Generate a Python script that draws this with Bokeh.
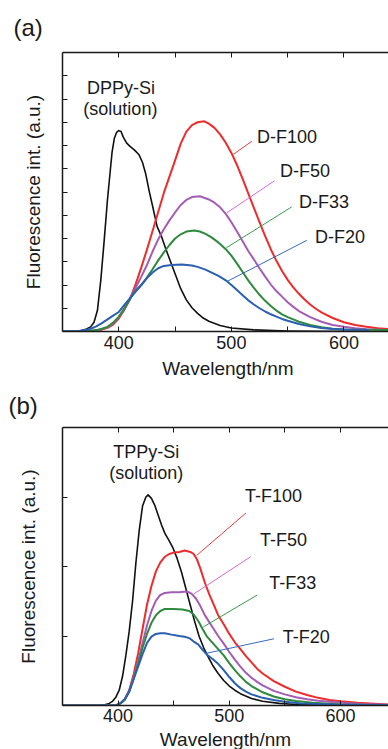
from bokeh.plotting import figure
from bokeh.models import LinearAxis, FixedTicker, Range1d, Label, CustomLabelingPolicy
from bokeh.layouts import column
from bokeh.embed import file_html
from bokeh.resources import INLINE

# ---------------- data : panel (a) ----------------
wl_dppy_si = [350, 360, 365, 370, 375, 378, 381, 384, 387, 390, 392, 394, 396, 398, 400, 402, 404, 407, 410, 414,
              418, 421, 424, 427, 430, 434, 438, 442, 446, 450, 455, 460, 465, 470, 475, 480, 490, 500, 520, 550, 580, 625]
int_dppy_si = [0, 0, 0.01, 0.04, 0.1, 0.2, 0.45, 1.1, 1.95, 2.85, 3.35, 3.85, 4.15, 4.28, 4.32, 4.3, 4.18, 4.05, 3.98, 3.9,
               3.8, 3.64, 3.38, 3.02, 2.7, 2.26, 2.04, 1.76, 1.5, 1.24, 0.92, 0.68, 0.51, 0.39, 0.29, 0.22, 0.13, 0.075, 0.035, 0.012, 0.005, 0]

wl_df100 = [350, 370, 380, 385, 390, 395, 400, 405, 410, 415, 420, 425, 430, 435, 440, 445, 450, 455, 460, 465,
            470, 476, 480, 485, 490, 495, 500, 505, 510, 515, 520, 525, 530, 535, 540, 545, 550, 555, 560, 565,
            570, 575, 580, 590, 600, 610, 620, 630, 643]
int_df100 = [0, 0, 0.02, 0.04, 0.08, 0.15, 0.28, 0.47, 0.7, 1.02, 1.38, 1.76, 2.16, 2.57, 2.98, 3.33, 3.68, 4.04, 4.3, 4.44,
             4.5, 4.52, 4.47, 4.38, 4.24, 4.06, 3.84, 3.58, 3.28, 2.97, 2.66, 2.35, 2.05, 1.77, 1.52, 1.3, 1.11, 0.95, 0.81, 0.69,
             0.58, 0.49, 0.41, 0.29, 0.2, 0.14, 0.1, 0.07, 0.05]

wl_df50 = [350, 370, 380, 385, 390, 395, 400, 405, 410, 415, 420, 425, 430, 435, 440, 445, 450, 455, 460, 465,
           472, 480, 485, 490, 495, 500, 505, 510, 515, 520, 525, 530, 535, 540, 545, 550, 555, 560, 570, 580,
           590, 600, 610, 620, 643]
int_df50 = [0, 0, 0.02, 0.05, 0.09, 0.17, 0.3, 0.48, 0.7, 0.94, 1.18, 1.43, 1.72, 1.98, 2.2, 2.39, 2.56, 2.72, 2.83, 2.89,
            2.91, 2.84, 2.77, 2.67, 2.53, 2.35, 2.15, 1.94, 1.73, 1.55, 1.36, 1.18, 1.01, 0.87, 0.75, 0.63, 0.53, 0.44, 0.31, 0.21,
            0.14, 0.1, 0.07, 0.05, 0.03]

wl_df33 = [350, 370, 380, 385, 390, 395, 400, 405, 410, 415, 420, 425, 430, 435, 440, 445, 450, 455, 460, 467,
           472, 477, 482, 486, 490, 495, 500, 505, 510, 515, 520, 525, 530, 535, 540, 545, 550, 555, 560, 570,
           580, 590, 600, 615, 643]
int_df33 = [0, 0, 0.03, 0.06, 0.1, 0.19, 0.32, 0.5, 0.7, 0.88, 1.0, 1.16, 1.34, 1.53, 1.7, 1.86, 2.0, 2.09, 2.15, 2.17,
            2.15, 2.1, 2.03, 1.96, 1.88, 1.77, 1.63, 1.46, 1.28, 1.1, 0.94, 0.79, 0.66, 0.55, 0.45, 0.37, 0.31, 0.26, 0.21, 0.14,
            0.09, 0.06, 0.045, 0.035, 0.03]

wl_df20 = [350, 365, 370, 375, 380, 385, 390, 395, 400, 405, 410, 415, 420, 425, 430, 435, 440, 447, 456, 465,
           470, 477, 483, 489, 495, 500, 505, 510, 515, 520, 525, 530, 535, 540, 545, 550, 560, 570, 580, 590,
           605, 622]
int_df20 = [0, 0.01, 0.03, 0.06, 0.11, 0.18, 0.26, 0.34, 0.42, 0.57, 0.72, 0.86, 1.0, 1.15, 1.27, 1.36, 1.41, 1.43, 1.44, 1.42,
            1.39, 1.33, 1.26, 1.19, 1.1, 1.0, 0.89, 0.78, 0.67, 0.58, 0.5, 0.43, 0.37, 0.32, 0.27, 0.23, 0.16, 0.11, 0.075, 0.055,
            0.04, 0.03]

# ---------------- data : panel (b) ----------------
wl_tppy_si = [350, 382, 388, 392, 395, 398, 401, 404, 407, 410, 413, 416, 419, 422, 425, 427, 430, 433, 436, 439,
              442, 446, 449, 453, 457, 461, 465, 469, 473, 477, 481, 485, 490, 495, 500, 505, 510, 520, 530, 545,
              560, 580, 600]
int_tppy_si = [0, 0, 0.01, 0.03, 0.06, 0.12, 0.22, 0.42, 0.72, 1.07, 1.5, 2.05, 2.52, 2.87, 3.0, 3.03, 2.98, 2.88, 2.74, 2.6,
               2.48, 2.37, 2.28, 2.12, 1.92, 1.68, 1.44, 1.2, 0.99, 0.83, 0.7, 0.58, 0.46, 0.36, 0.28, 0.22, 0.17, 0.1, 0.06, 0.03,
               0.015, 0.005, 0]

wl_tf100 = [350, 398, 402, 406, 410, 414, 418, 422, 426, 430, 434, 438, 442, 446, 450, 455, 460, 465, 468, 471,
            474, 478, 482, 486, 490, 495, 500, 505, 510, 515, 520, 525, 530, 540, 550, 560, 570, 580, 590, 600,
            615, 643]
int_tf100 = [0, 0, 0.03, 0.09, 0.22, 0.45, 0.75, 1.1, 1.45, 1.72, 1.93, 2.06, 2.14, 2.18, 2.2, 2.21, 2.23, 2.21, 2.18, 2.1,
             1.97, 1.77, 1.6, 1.45, 1.3, 1.17, 1.03, 0.91, 0.81, 0.71, 0.62, 0.53, 0.46, 0.35, 0.27, 0.2, 0.15, 0.11, 0.08, 0.06,
             0.04, 0.015]

wl_tf50 = [350, 398, 402, 406, 410, 414, 418, 422, 426, 430, 434, 438, 442, 448, 455, 462, 466, 470, 474, 478,
           482, 486, 490, 495, 500, 505, 510, 515, 520, 525, 530, 540, 550, 560, 570, 580, 600, 620, 643]
int_tf50 = [0, 0, 0.03, 0.09, 0.21, 0.41, 0.64, 0.9, 1.15, 1.36, 1.51, 1.59, 1.62, 1.63, 1.63, 1.64, 1.61, 1.54, 1.43, 1.3,
            1.2, 1.1, 1.0, 0.89, 0.77, 0.66, 0.56, 0.47, 0.4, 0.34, 0.29, 0.21, 0.16, 0.12, 0.09, 0.07, 0.04, 0.02, 0.01]

wl_tf33 = [350, 398, 402, 406, 410, 414, 418, 422, 426, 430, 434, 438, 442, 450, 458, 464, 468, 472, 476, 480,
           485, 490, 495, 500, 505, 510, 515, 520, 530, 540, 550, 560, 575, 600, 643]
int_tf33 = [0, 0, 0.03, 0.08, 0.2, 0.39, 0.6, 0.83, 1.03, 1.19, 1.3, 1.36, 1.39, 1.39, 1.38, 1.36, 1.31, 1.22, 1.1, 0.99,
            0.9, 0.81, 0.72, 0.61, 0.51, 0.42, 0.34, 0.28, 0.19, 0.13, 0.09, 0.065, 0.04, 0.015, 0.005]

wl_tf20 = [350, 398, 402, 406, 410, 414, 418, 422, 426, 430, 434, 438, 442, 448, 455, 460, 464, 468, 472, 476,
           480, 485, 490, 495, 500, 505, 510, 515, 520, 530, 540, 550, 565, 580, 600, 643]
int_tf20 = [0, 0, 0.03, 0.09, 0.2, 0.38, 0.56, 0.74, 0.9, 0.99, 1.03, 1.04, 1.04, 1.02, 1.0, 0.99, 0.97, 0.92, 0.88, 0.8,
            0.73, 0.67, 0.6, 0.51, 0.41, 0.32, 0.25, 0.2, 0.16, 0.11, 0.08, 0.055, 0.03, 0.02, 0.01, 0.003]

# ---------------- ticks / texts ----------------
x_ticks = [400, 500, 600]
x_minor_ticks = [450, 550]
y_ticks_a = [1, 2, 3, 4, 5]
y_minor_ticks_a = [0.5, 1.5, 2.5, 3.5, 4.5, 5.5]
y_ticks_b = [1, 2, 3]
x_title = "Wavelength/nm"
y_title = "Fluorescence int. (a.u.)"

FONT = "Liberation Sans"
AX = "#1a1a1a"
TXT = "#1a1a1a"
C_BLACK = "#111111"
C_RED = "#ef2b2b"
C_PURPLE = "#a45db4"
C_GREEN = "#2f8a3e"
C_BLUE = "#2b5fb0"
L_RED = "#f03a3a"
L_PURPLE = "#d46ad4"
L_GREEN = "#3a9a4a"
L_BLUE = "#3a6ac0"

NO_LABELS_JS = """
const n = indices.size;
for (let i = 0; i < n; i++) {
  if (typeof indices.unset === "function") { indices.unset(i); } else { indices.set(i, false); }
}
return indices;
"""


def style_axis(ax, ticks, minor, tick_len, minor_len, line=True, labels=True, tick_standoff=2):
    ax.ticker = FixedTicker(ticks=ticks, minor_ticks=minor)
    ax.major_tick_in = tick_len
    ax.major_tick_out = 0
    ax.minor_tick_in = minor_len
    ax.minor_tick_out = 0
    ax.major_tick_line_color = AX
    ax.minor_tick_line_color = AX
    ax.major_tick_line_width = 1
    ax.minor_tick_line_width = 1
    ax.axis_line_color = AX if line else None
    ax.axis_line_width = 1.5
    ax.major_label_text_font = FONT
    ax.major_label_text_color = TXT
    if labels:
        ax.major_label_text_font_size = "18px"
        ax.major_label_standoff = tick_standoff
    else:
        ax.major_label_text_font_size = "0px"
        ax.major_label_standoff = 0
        ax.major_label_policy = CustomLabelingPolicy(code=NO_LABELS_JS)
    ax.axis_label_text_font = FONT
    ax.axis_label_text_font_style = "normal"
    ax.axis_label_text_color = TXT
    ax.axis_label_text_font_size = "19px"


def panel(tag, fw, fh, bl, bt, bb, x_end, y_end, yt, ym, right_ticks, curves,
          name_labels, tag_labels, leaders, ylab_standoff, tick_standoff, xlab_standoff,
          tag_offset, tag_standoff):
    p = figure(frame_width=fw, frame_height=fh,
               x_range=Range1d(350, x_end), y_range=Range1d(0, y_end),
               output_backend="svg", toolbar_location=None,
               min_border_left=bl, min_border_right=0, min_border_top=bt, min_border_bottom=bb,
               background_fill_color="white", border_fill_color="white")
    p.outline_line_color = None
    p.xgrid.visible = False
    p.ygrid.visible = False

    p.title.text = tag
    p.title.text_font = FONT
    p.title.text_font_size = "24px"
    p.title.text_font_style = "normal"
    p.title.text_color = TXT
    p.title.align = "left"
    p.title.offset = tag_offset
    p.title.standoff = tag_standoff

    xa = p.xaxis[0]
    style_axis(xa, x_ticks, x_minor_ticks, 5, 5, tick_standoff=tick_standoff)
    xa.axis_label = x_title
    xa.axis_label_standoff = xlab_standoff

    ya = p.yaxis[0]
    style_axis(ya, yt, ym, 5, 5, labels=False)
    ya.axis_label = y_title
    ya.axis_label_standoff = ylab_standoff

    top = LinearAxis()
    style_axis(top, x_ticks, x_minor_ticks, 5, 5, labels=False)
    p.add_layout(top, "above")

    if right_ticks:
        right = LinearAxis()
        style_axis(right, yt, [], 5, 0, line=False, labels=False)
        p.add_layout(right, "right")

    for xs, ys, col, w in curves:
        p.line(xs, ys, line_color=col, line_width=w, line_join="round")

    p.segment(x0=[l[0] for l in leaders], y0=[l[1] for l in leaders],
              x1=[l[2] for l in leaders], y1=[l[3] for l in leaders],
              line_color=[l[4] for l in leaders], line_width=1)

    for txt, x, y in name_labels:
        p.add_layout(Label(x=x, y=y, text=txt, text_font=FONT, text_font_size="18px",
                           text_align="center", text_baseline="middle", text_color=TXT))
    for txt, x, y in tag_labels:
        p.add_layout(Label(x=x, y=y, text=txt, text_font=FONT, text_font_size="18px",
                           text_align="left", text_baseline="middle", text_color=TXT))
    return p


pa = panel("(a)", 331, 279, 57, 52, 48, 644, 6, y_ticks_a, y_minor_ticks_a, True,
           [(wl_dppy_si, int_dppy_si, C_BLACK, 1.6),
            (wl_df100, int_df100, C_RED, 2),
            (wl_df50, int_df50, C_PURPLE, 2),
            (wl_df33, int_df33, C_GREEN, 2),
            (wl_df20, int_df20, C_BLUE, 2)],
           [("DPPy-Si", 402, 5.24), ("(solution)", 401.4, 4.79)],
           [("D-F100", 522.8, 4.19), ("D-F50", 543.2, 3.46), ("D-F33", 560.1, 2.78), ("D-F20", 574.3, 2.03)],
           [(501.8, 3.81, 518.1, 4.09, L_RED),
            (495.9, 2.55, 538.2, 3.24, L_PURPLE),
            (495.5, 1.80, 553.6, 2.68, L_GREEN),
            (496.5, 1.08, 567.0, 1.96, L_BLUE)],
           19, 4, 6, -49, 23)

pb = panel("(b)", 326, 278, 62, 46, 45, 643.2, 4, y_ticks_b, [], False,
           [(wl_tppy_si, int_tppy_si, C_BLACK, 1.6),
            (wl_tf100, int_tf100, C_RED, 2),
            (wl_tf50, int_tf50, C_PURPLE, 2),
            (wl_tf33, int_tf33, C_GREEN, 2),
            (wl_tf20, int_tf20, C_BLUE, 2)],
           [("TPPy-Si", 425.3, 3.65), ("(solution)", 425.3, 3.34)],
           [("T-F100", 514.1, 3.01), ("T-F50", 527.6, 2.38), ("T-F33", 536.0, 1.76), ("T-F20", 548.0, 0.98)],
           [(470.7, 2.16, 515.0, 2.77, L_RED),
            (467.6, 1.60, 519.2, 2.14, L_PURPLE),
            (476.6, 1.13, 525.2, 1.59, L_GREEN),
            (479.0, 0.75, 540.2, 0.96, L_BLUE)],
           24, 3, 4, -54, 17)

layout = column(pa, pb, spacing=0)
open("out.html", "w").write(file_html(layout, INLINE))
